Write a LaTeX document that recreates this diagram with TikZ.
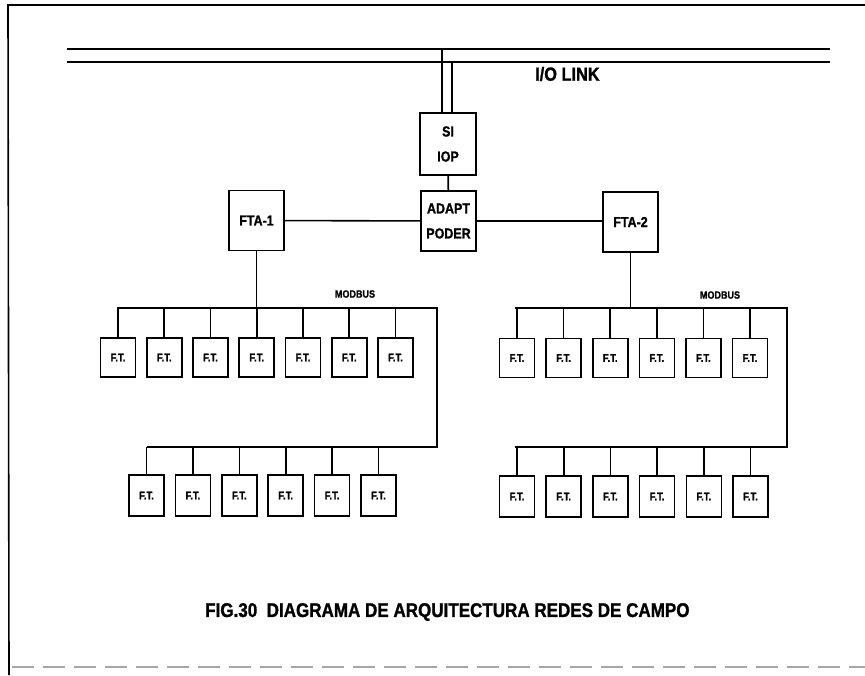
\documentclass[tikz,border=0pt]{standalone}
\usepackage{fontspec}
\setmainfont{Liberation Sans}[FakeStretch=0.86, BoldFeatures={FakeBold=1.2}]
\begin{document}
\begin{tikzpicture}[x=1pt,y=-1pt,
  box/.style={draw, line width=1.6pt, inner sep=0pt, align=center},
  ftbox/.style={box, minimum width=35pt, minimum height=39pt, font=\bfseries\fontsize{11}{12}\selectfont},
  bigbox/.style={box, minimum width=55pt, minimum height=60pt, font=\bfseries\fontsize{14.5}{25}\selectfont},
  wire/.style={line width=1.6pt},
  bus/.style={line width=1.8pt},
  lbl/.style={font=\bfseries\fontsize{10.5}{11}\selectfont, inner sep=0pt}]
\useasboundingbox (0,0) rectangle (865,675);
% frame
\draw[line width=1.6pt] (865,5) -- (8,5) -- (9,675);
\draw[line width=1.3pt, gray!70, dash pattern=on 22pt off 9pt] (12,667) -- (865,667);
% I/O link bus
\coordinate (tl) at (67,49); \coordinate (tr) at (830,49);
\coordinate (bl) at (67,62); \coordinate (br) at (830,62);
\draw[bus] (tl) -- (tr);
\draw[bus] (bl) -- (br);
\node[font=\bfseries\fontsize{19}{20}\selectfont, anchor=west, inner sep=0pt] (iolink) at (535,74) {I/O LINK};
% main boxes
\node[box, minimum width=56pt, minimum height=62pt, font=\bfseries\fontsize{14.5}{25}\selectfont] (si) at (448,144) {SI\\IOP};
\node[bigbox] (adapt) at (448.5,221) {ADAPT\\PODER};
\node[bigbox] (fta1) at (256.5,220.5) {FTA-1};
\node[bigbox] (fta2) at (630.5,222) {FTA-2};
\coordinate (va) at (442,49); \coordinate (vb) at (452,62);
\draw[wire] (va) -- (si.north -| va);
\draw[wire] (vb) -- (si.north -| vb);
\draw[wire] (si) -- (adapt);
\draw[wire] (fta1) -- (adapt);
\draw[wire] (adapt.east) -- (fta2.west |- adapt.east);
% left modbus
\coordinate (ula) at (117,308); \coordinate (ulb) at (437,308);
\coordinate (lla) at (146.5,447); \coordinate (llb) at (437,447);
\draw[wire] (fta1.south) -- (fta1.south |- ula);
\draw[wire] (ula) -- (ulb) -- (llb) -- (lla);
\node[lbl] (mb1) at (355,294) {MODBUS};
% right modbus
\coordinate (ura) at (515,308); \coordinate (urb) at (787,308);
\coordinate (lra) at (515,447); \coordinate (lrb) at (787,447);
\draw[wire] (fta2.south) -- (fta2.south |- ura);
\draw[wire] (ura) -- (urb) -- (lrb) -- (lra);
\node[lbl] (mb2) at (720,295) {MODBUS};
% F.T. boxes
\foreach \i in {0,...,6} {
  \node[ftbox] (a\i) at ({118+46.25*\i},357.5) {F.T.};
  \draw[wire] (a\i.north) -- (a\i.north |- ula);
}
\foreach \i in {0,...,5} {
  \node[ftbox, minimum height=41pt] (b\i) at ({146.5+46.4*\i},495.5) {F.T.};
  \draw[wire] (b\i.north) -- (b\i.north |- lla);
  \node[ftbox] (c\i) at ({517+46.6*\i},358) {F.T.};
  \draw[wire] (c\i.north) -- (c\i.north |- ura);
  \node[ftbox, minimum height=41pt] (d\i) at ({517+46.7*\i},496.5) {F.T.};
  \draw[wire] (d\i.north) -- (d\i.north |- lra);
}
% caption
\node[font=\bfseries\fontsize{19.8}{21}\selectfont, anchor=west, inner sep=0pt] (cap) at (205,612) {FIG.30\ \ DIAGRAMA DE ARQUITECTURA REDES DE CAMPO};
\end{tikzpicture}
\end{document}
